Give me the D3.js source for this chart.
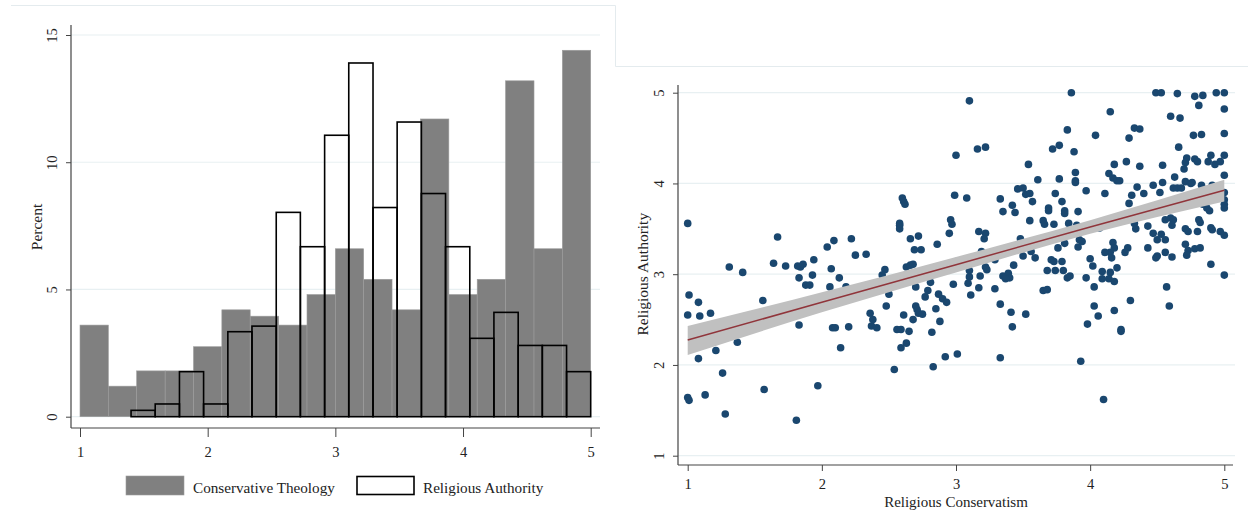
<!DOCTYPE html>
<html>
<head>
<meta charset="utf-8">
<title>Religious conservatism and authority</title>
<script src="https://d3js.org/d3.v7.min.js"></script>
<style>
  body { margin: 0; background: #fff; }
  text { font-family: "Liberation Serif", "DejaVu Serif", serif; fill: #222; }
</style>
</head>
<body>
<div id="chart"></div>
<script>
// ---- left panel: histograms (percent per bin) ----
const ctEdges = [1, 1.222, 1.444, 1.667, 1.889, 2.111, 2.333, 2.556, 2.778, 3, 3.222, 3.444, 3.667, 3.889, 4.111, 4.333, 4.556, 4.778, 5];
const ctPct = [3.6, 1.2, 1.8, 1.8, 2.75, 4.2, 3.95, 3.6, 4.8, 6.6, 5.4, 4.2, 11.7, 4.8, 5.4, 13.2, 6.6, 14.4];
const raEdges = [1.4, 1.589, 1.779, 1.968, 2.158, 2.347, 2.537, 2.726, 2.916, 3.105, 3.295, 3.484, 3.674, 3.863, 4.053, 4.242, 4.432, 4.621, 4.811, 5];
const raPct = [0.25, 0.5, 1.77, 0.5, 3.34, 3.56, 8.03, 6.68, 11.06, 13.9, 8.22, 11.58, 8.77, 6.68, 3.08, 4.1, 2.8, 2.8, 1.77];
const histXTicks = [1, 2, 3, 4, 5];
const histYTicks = [0, 5, 10, 15];
const legendLabels = ["Conservative Theology", "Religious Authority"];

// ---- right panel: scatter + linear fit with CI ----
const consX = [1.00,1.67,1.31,1.41,1.64,1.73,1.82,1.84,1.86,1.94,1.83,1.93,2.04,2.09,2.07,2.13,2.22,2.25,2.33,2.47,2.45,2.60,2.61,2.62,2.58,2.58,2.58,2.66,2.72,2.69,2.74,2.63,2.66,2.68,2.86,2.95,2.96,2.97,3.00,2.99,
  3.10,3.86,3.16,3.22,3.08,3.54,3.61,3.72,3.77,3.83,3.88,3.89,3.89,3.89,3.77,3.46,3.50,3.52,3.55,3.57,3.33,3.42,3.44,3.35,3.74,3.79,3.69,3.69,3.81,3.81,3.91,3.55,3.65,3.66,3.73,3.84,3.97,4.11,4.15,4.04,
  4.18,4.14,4.17,4.20,4.22,4.27,4.29,4.33,4.37,4.37,4.35,4.40,4.31,4.29,4.47,4.52,4.54,4.54,4.63,4.66,4.60,4.67,4.49,4.53,4.65,4.78,4.84,4.81,4.94,5.00,5.00,5.00,4.77,4.83,5.00,4.90,4.88,4.93,4.97,4.72,
  4.78,4.80,4.71,4.70,5.00,4.71,4.75,4.76,4.83,4.62,4.65,4.68,4.91,5.00,5.00,5.00,5.00,4.78,4.84,4.87,4.89,4.56,4.60,4.62,4.61,4.45,4.43,4.33,4.34,4.47,4.50,4.53,4.56,4.71,4.73,4.80,4.81,4.82,4.90,4.91,
  4.97,5.00,4.71,4.73,4.78,4.82,4.43,4.61,4.72,4.56,4.50,4.49,4.90,5.00,4.28,4.26,4.17,4.18,4.15,4.11,4.16,4.00,4.02,4.07,4.20,4.15,4.09,3.97,4.09,4.14,3.92,3.94,3.91,3.76,3.81,3.71,3.73,3.79,3.68,3.74,
  3.80,3.83,3.85,3.56,3.59,3.50,3.48,3.43,3.35,3.39,3.40,3.17,3.22,3.21,3.19,3.18,3.10,3.10,3.22,3.23,3.00,3.29,3.90,
  1.01,1.00,1.09,1.08,1.17,1.56,1.21,1.37,1.08,1.26,1.00,1.01,1.13,1.28,1.57,1.81,1.97,1.83,1.88,1.91,2.06,2.18,2.08,2.10,2.20,2.14,2.36,2.38,2.37,2.41,2.48,2.50,2.54,2.56,2.59,2.65,2.61,2.63,2.59,2.68,
  2.70,2.71,2.72,2.75,2.70,2.77,2.79,2.81,2.85,2.88,2.82,2.83,2.92,2.87,2.90,2.93,2.98,3.01,
  3.09,3.11,3.17,3.29,3.37,3.33,3.41,3.42,3.52,3.65,3.68,4.03,4.18,4.03,4.06,3.98,4.18,4.30,4.23,4.23,4.57,4.59,3.33,3.93,4.10];
const authY = [3.56,3.41,3.08,3.02,3.12,3.09,3.09,3.08,3.11,3.16,2.96,2.99,3.30,3.37,3.06,2.96,3.39,3.21,3.22,3.05,2.99,3.84,3.80,3.77,3.54,3.50,3.56,3.39,3.42,3.27,3.27,3.08,3.10,3.11,3.33,3.45,3.60,3.55,4.31,3.87,
  4.91,5.00,4.38,4.40,3.84,4.21,4.04,4.38,4.42,4.59,4.35,4.12,4.03,4.01,4.05,3.94,3.95,3.88,3.89,3.80,3.83,3.76,3.68,3.69,3.89,3.80,3.73,3.70,3.70,3.67,3.69,3.59,3.59,3.55,3.55,3.56,3.92,3.89,4.79,4.53,
  4.21,4.11,4.06,4.03,4.03,4.24,4.50,4.61,4.60,4.19,3.96,3.89,3.87,3.78,3.98,3.90,4.20,4.01,4.07,4.40,4.74,4.72,5.00,5.00,4.99,4.96,4.97,4.86,5.00,5.00,4.82,4.55,4.53,4.54,4.31,4.31,4.24,4.21,4.24,4.28,
  4.27,4.24,4.23,4.16,4.09,4.02,4.00,4.01,3.98,3.95,3.95,3.95,3.98,3.90,3.82,3.77,3.73,3.79,3.77,3.73,3.70,3.60,3.62,3.60,3.54,3.67,3.53,3.56,3.50,3.45,3.38,3.44,3.38,3.50,3.47,3.47,3.60,3.57,3.51,3.49,
  3.47,3.43,3.33,3.26,3.28,3.29,3.29,3.19,3.21,3.24,3.20,3.18,3.11,2.99,3.29,3.24,3.35,3.29,3.24,3.24,3.18,3.17,3.09,3.51,3.07,3.02,3.03,2.96,2.95,2.95,3.38,3.36,3.30,3.29,3.34,3.16,3.14,3.14,3.04,3.04,
  3.04,2.96,2.98,3.25,3.18,3.20,3.39,3.10,2.98,3.01,2.96,3.47,3.45,3.39,3.25,2.98,3.04,2.97,3.08,3.05,3.14,3.16,3.54,
  2.77,2.55,2.54,2.69,2.57,2.71,2.16,2.25,2.07,1.91,1.64,1.61,1.67,1.46,1.73,1.39,1.77,2.44,2.88,2.88,2.86,2.86,2.41,2.41,2.42,2.19,2.57,2.50,2.43,2.41,2.65,2.78,1.95,2.39,2.39,2.37,2.55,2.24,2.19,2.50,
  2.65,2.61,2.57,2.56,2.86,2.75,2.82,2.91,2.62,2.48,2.36,1.98,2.09,2.78,2.73,2.69,2.89,2.12,
  2.90,2.77,2.85,2.84,2.95,2.67,2.58,2.42,2.56,2.82,2.83,2.86,2.92,2.65,2.54,2.45,2.60,2.71,2.39,2.37,2.86,2.65,2.08,2.04,1.62];
const fitX = [1, 2, 3, 4, 5];
const fitY = [2.275, 2.69, 3.105, 3.52, 3.925];
const ciLo = [2.11, 2.58, 3.02, 3.445, 3.80];
const ciHi = [2.43, 2.80, 3.19, 3.595, 4.04];
const scatTicks = [1, 2, 3, 4, 5];

const W = 1248, H = 529;
const svg = d3.select("#chart").append("svg").attr("width", W).attr("height", H);

const frameCol = "#e4ebee", gridCol = "#e8f0f2", axisCol = "#444";
const fmt = d3.format("d");

// faint image frames
svg.append("path").attr("d", "M11,5.5H615.5V66.5H1248")
    .attr("fill", "none").attr("stroke", frameCol).attr("stroke-width", 1);

// ================= left panel =================
const xL = d3.scaleLinear().domain([1, 5]).range([80, 590.7]);
const yL = d3.scaleLinear().domain([0, 15]).range([416.7, 35]);
const left = svg.append("g");

left.selectAll("line.grid").data(histYTicks).enter().append("line")
    .attr("x1", 71).attr("x2", 600)
    .attr("y1", d => yL(d)).attr("y2", d => yL(d))
    .attr("stroke", gridCol).attr("stroke-width", 1.2);

left.selectAll("rect.ct").data(ctPct).enter().append("rect")
    .attr("class", "ct")
    .attr("x", (d, i) => xL(ctEdges[i]))
    .attr("width", (d, i) => xL(ctEdges[i + 1]) - xL(ctEdges[i]))
    .attr("y", d => yL(d))
    .attr("height", d => yL(0) - yL(d))
    .attr("fill", "#808080").attr("stroke", "#9c9c9c").attr("stroke-width", 0.6);

left.selectAll("rect.ra").data(raPct).enter().append("rect")
    .attr("class", "ra")
    .attr("x", (d, i) => xL(raEdges[i]))
    .attr("width", (d, i) => xL(raEdges[i + 1]) - xL(raEdges[i]))
    .attr("y", d => yL(d))
    .attr("height", d => yL(0) - yL(d))
    .attr("fill", "none").attr("stroke", "#000").attr("stroke-width", 1.6);

// axes
left.append("line").attr("x1", 71).attr("x2", 71).attr("y1", 25).attr("y2", 428)
    .attr("stroke", axisCol).attr("stroke-width", 1.2);
left.append("line").attr("x1", 71).attr("x2", 600).attr("y1", 428).attr("y2", 428)
    .attr("stroke", axisCol).attr("stroke-width", 1.2);

const axL = left.append("g").attr("transform", "translate(71,0)")
    .call(d3.axisLeft(yL).tickValues(histYTicks).tickFormat(fmt).tickSize(5));
axL.select(".domain").remove();
axL.selectAll("line").attr("stroke", axisCol);
axL.selectAll("text").attr("x", 0).attr("y", -14).attr("dy", 0)
    .attr("transform", "rotate(-90)").attr("text-anchor", "middle")
    .attr("font-size", 14.5).attr("fill", "#222");

const axB = left.append("g").attr("transform", "translate(0,428)")
    .call(d3.axisBottom(xL).tickValues(histXTicks).tickFormat(fmt).tickSize(9));
axB.select(".domain").remove();
axB.selectAll("line").attr("stroke", axisCol);
axB.selectAll("text").attr("y", 28.5).attr("dy", 0).attr("font-size", 14.5).attr("fill", "#222");

left.append("text").attr("transform", "translate(41.5,227) rotate(-90)")
    .attr("text-anchor", "middle").attr("font-size", 15.5).text("Percent");

// legend
left.append("rect").attr("x", 126).attr("y", 476).attr("width", 58).attr("height", 19)
    .attr("fill", "#808080").attr("stroke", "#9c9c9c").attr("stroke-width", 0.6);
left.append("text").attr("x", 193).attr("y", 493).attr("font-size", 15.2).text(legendLabels[0]);
left.append("rect").attr("x", 357).attr("y", 476.5).attr("width", 57).attr("height", 18)
    .attr("fill", "#fff").attr("stroke", "#000").attr("stroke-width", 1.6);
left.append("text").attr("x", 423).attr("y", 493).attr("font-size", 15.2).text(legendLabels[1]);

// ================= right panel =================
const xR = d3.scaleLinear().domain([1, 5]).range([687.7, 1224.3]);
const yR = d3.scaleLinear().domain([1, 5]).range([455.7, 92.7]);
const right = svg.append("g");

right.selectAll("line.grid").data(scatTicks).enter().append("line")
    .attr("x1", 678).attr("x2", 1235)
    .attr("y1", d => yR(d)).attr("y2", d => yR(d))
    .attr("stroke", gridCol).attr("stroke-width", 1.2);

right.selectAll("circle").data(consX).enter().append("circle")
    .attr("cx", d => xR(d))
    .attr("cy", (d, i) => yR(authY[i]))
    .attr("r", 3.8)
    .attr("fill", "#1a476f");

const fitData = fitX.map((x, i) => ({x: x, y: fitY[i], lo: ciLo[i], hi: ciHi[i]}));
right.append("path").datum(fitData)
    .attr("d", d3.area().x(d => xR(d.x)).y0(d => yR(d.lo)).y1(d => yR(d.hi)).curve(d3.curveMonotoneX))
    .attr("fill", "#c0c0c0");
right.append("path").datum(fitData)
    .attr("d", d3.line().x(d => xR(d.x)).y(d => yR(d.y)))
    .attr("fill", "none").attr("stroke", "#90353b").attr("stroke-width", 1.5);

right.append("line").attr("x1", 678).attr("x2", 678).attr("y1", 85).attr("y2", 465)
    .attr("stroke", axisCol).attr("stroke-width", 1.2);
right.append("line").attr("x1", 678).attr("x2", 1233).attr("y1", 465).attr("y2", 465)
    .attr("stroke", axisCol).attr("stroke-width", 1.2);

const axRL = right.append("g").attr("transform", "translate(678,0)")
    .call(d3.axisLeft(yR).tickValues(scatTicks).tickFormat(fmt).tickSize(5));
axRL.select(".domain").remove();
axRL.selectAll("line").attr("stroke", axisCol);
axRL.selectAll("text").attr("x", 0).attr("y", -14.5).attr("dy", 0)
    .attr("transform", "rotate(-90)").attr("text-anchor", "middle")
    .attr("font-size", 14.5).attr("fill", "#222");

const axRB = right.append("g").attr("transform", "translate(0,465)")
    .call(d3.axisBottom(xR).tickValues(scatTicks).tickFormat(fmt).tickSize(6));
axRB.select(".domain").remove();
axRB.selectAll("line").attr("stroke", axisCol);
axRB.selectAll("text").attr("y", 24).attr("dy", 0).attr("font-size", 14.5).attr("fill", "#222");

right.append("text").attr("x", xR(3)).attr("y", 507).attr("text-anchor", "middle")
    .attr("font-size", 15).text("Religious Conservatism");
right.append("text").attr("transform", "translate(648," + yR(3) + ") rotate(-90)")
    .attr("text-anchor", "middle").attr("font-size", 15.5).text("Religious Authority");
</script>
</body>
</html>
